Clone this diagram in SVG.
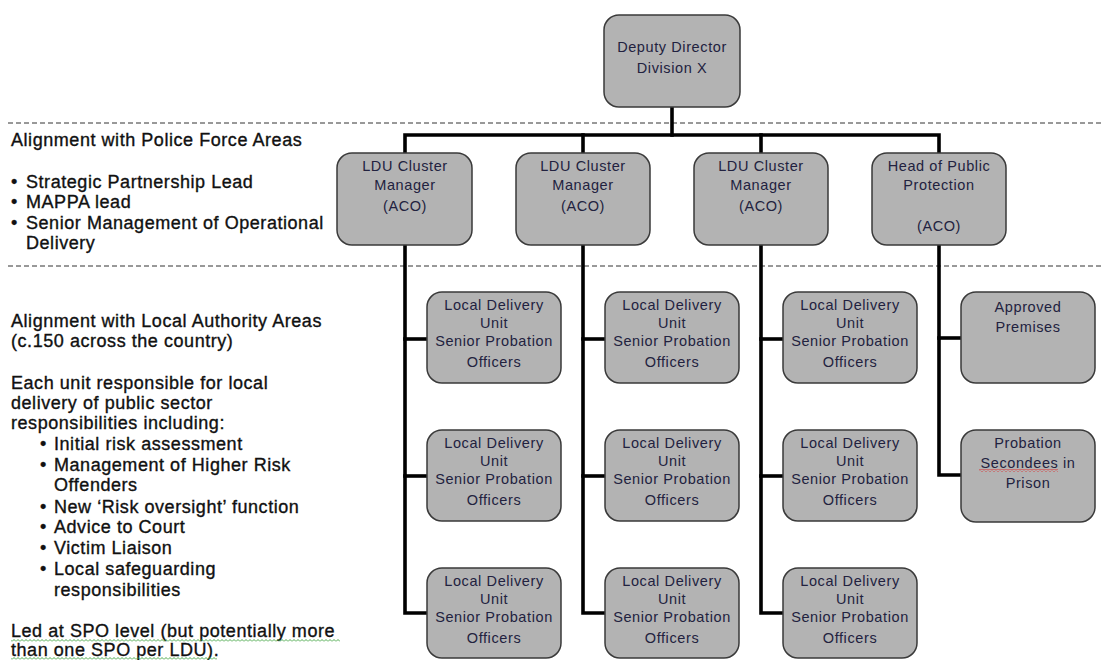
<svg xmlns="http://www.w3.org/2000/svg" width="1102" height="660" viewBox="0 0 1102 660">
  <defs>
    <style>
      .node .box { fill: #b3b3b3; stroke: #3a3a3a; stroke-width: 1.5; }
      .node text { font-family: "Liberation Sans", Arial, sans-serif; font-size: 14.5px; letter-spacing: 0.6px; fill: #22223f; text-anchor: middle; }
      .conn { stroke: #000; stroke-width: 3.6; fill: none; stroke-linejoin: miter; stroke-linecap: square; }
      .divider { stroke: #333; stroke-width: 1; stroke-dasharray: 5 3; }
      .notes text { font-family: "Liberation Sans", Arial, sans-serif; font-size: 18px; letter-spacing: 0.55px; fill: #111; stroke: #111; stroke-width: 0.35px; }
    </style>
    <pattern id="wavy-red" width="4" height="3" patternUnits="userSpaceOnUse">
      <path d="M0,2.5 L2,0.5 L4,2.5" stroke="#e02020" stroke-width="0.9" fill="none"/>
    </pattern>
    <pattern id="wavy-green" width="4" height="3" patternUnits="userSpaceOnUse">
      <path d="M0,2.5 L2,0.5 L4,2.5" stroke="#3aa03a" stroke-width="0.9" fill="none"/>
    </pattern>
  </defs>

  <rect width="1102" height="660" fill="#fff"/>

  <!-- section dividers -->
  <line class="divider" x1="8" y1="123" x2="1102" y2="123"/>
  <line class="divider" x1="8" y1="266" x2="1102" y2="266"/>

  <!-- connectors -->
  <g id="connectors">
    <path class="conn" d="M672,107 V135"/>
    <path class="conn" d="M405,153 V135 H939 V153"/>
    <path class="conn" d="M583,135 V153"/>
    <path class="conn" d="M761,135 V153"/>
    <!-- cluster 1 -->
    <path class="conn" d="M405,245 V613 H427"/>
    <path class="conn" d="M405,339 H427"/>
    <path class="conn" d="M405,476 H427"/>
    <!-- cluster 2 -->
    <path class="conn" d="M583,245 V613 H605"/>
    <path class="conn" d="M583,339 H605"/>
    <path class="conn" d="M583,476 H605"/>
    <!-- cluster 3 -->
    <path class="conn" d="M761,245 V613 H783"/>
    <path class="conn" d="M761,339 H783"/>
    <path class="conn" d="M761,476 H783"/>
    <!-- public protection -->
    <path class="conn" d="M939,245 V475 H961"/>
    <path class="conn" d="M939,338 H961"/>
  </g>

  <!-- top -->
  <g id="deputy-director" class="node">
    <rect class="box" x="604" y="15" width="136" height="92" rx="15"/>
    <text x="672" y="52">Deputy Director</text>
    <text x="672" y="73">Division X</text>
  </g>

  <!-- second level -->
  <g id="ldu-cluster-1" class="node">
    <rect class="box" x="337" y="153" width="135" height="92" rx="15"/>
    <text x="405" y="171">LDU Cluster</text>
    <text x="405" y="190">Manager</text>
    <text x="405" y="211">(ACO)</text>
  </g>
  <g id="ldu-cluster-2" class="node">
    <rect class="box" x="516" y="153" width="134" height="92" rx="15"/>
    <text x="583" y="171">LDU Cluster</text>
    <text x="583" y="190">Manager</text>
    <text x="583" y="211">(ACO)</text>
  </g>
  <g id="ldu-cluster-3" class="node">
    <rect class="box" x="694" y="153" width="134" height="92" rx="15"/>
    <text x="761" y="171">LDU Cluster</text>
    <text x="761" y="190">Manager</text>
    <text x="761" y="211">(ACO)</text>
  </g>
  <g id="head-public-protection" class="node">
    <rect class="box" x="872" y="153" width="134" height="92" rx="15"/>
    <text x="939" y="171">Head of Public</text>
    <text x="939" y="190">Protection</text>
    <text x="939" y="231">(ACO)</text>
  </g>

  <!-- local delivery units: cluster 1 -->
  <g id="ldu-1-1" class="node">
    <rect class="box" x="427" y="292" width="134" height="91" rx="15"/>
    <text x="494" y="310">Local Delivery</text><text x="494" y="328">Unit</text>
    <text x="494" y="346">Senior Probation</text><text x="494" y="367">Officers</text>
  </g>
  <g id="ldu-1-2" class="node">
    <rect class="box" x="427" y="430" width="134" height="91" rx="15"/>
    <text x="494" y="448">Local Delivery</text><text x="494" y="466">Unit</text>
    <text x="494" y="484">Senior Probation</text><text x="494" y="505">Officers</text>
  </g>
  <g id="ldu-1-3" class="node">
    <rect class="box" x="427" y="568" width="134" height="90" rx="15"/>
    <text x="494" y="586">Local Delivery</text><text x="494" y="604">Unit</text>
    <text x="494" y="622">Senior Probation</text><text x="494" y="643">Officers</text>
  </g>

  <!-- local delivery units: cluster 2 -->
  <g id="ldu-2-1" class="node">
    <rect class="box" x="605" y="292" width="134" height="91" rx="15"/>
    <text x="672" y="310">Local Delivery</text><text x="672" y="328">Unit</text>
    <text x="672" y="346">Senior Probation</text><text x="672" y="367">Officers</text>
  </g>
  <g id="ldu-2-2" class="node">
    <rect class="box" x="605" y="430" width="134" height="91" rx="15"/>
    <text x="672" y="448">Local Delivery</text><text x="672" y="466">Unit</text>
    <text x="672" y="484">Senior Probation</text><text x="672" y="505">Officers</text>
  </g>
  <g id="ldu-2-3" class="node">
    <rect class="box" x="605" y="568" width="134" height="90" rx="15"/>
    <text x="672" y="586">Local Delivery</text><text x="672" y="604">Unit</text>
    <text x="672" y="622">Senior Probation</text><text x="672" y="643">Officers</text>
  </g>

  <!-- local delivery units: cluster 3 -->
  <g id="ldu-3-1" class="node">
    <rect class="box" x="783" y="292" width="134" height="91" rx="15"/>
    <text x="850" y="310">Local Delivery</text><text x="850" y="328">Unit</text>
    <text x="850" y="346">Senior Probation</text><text x="850" y="367">Officers</text>
  </g>
  <g id="ldu-3-2" class="node">
    <rect class="box" x="783" y="430" width="134" height="91" rx="15"/>
    <text x="850" y="448">Local Delivery</text><text x="850" y="466">Unit</text>
    <text x="850" y="484">Senior Probation</text><text x="850" y="505">Officers</text>
  </g>
  <g id="ldu-3-3" class="node">
    <rect class="box" x="783" y="568" width="134" height="90" rx="15"/>
    <text x="850" y="586">Local Delivery</text><text x="850" y="604">Unit</text>
    <text x="850" y="622">Senior Probation</text><text x="850" y="643">Officers</text>
  </g>

  <!-- public protection units -->
  <g id="approved-premises" class="node">
    <rect class="box" x="961" y="292" width="134" height="91" rx="15"/>
    <text x="1028" y="312">Approved</text>
    <text x="1028" y="332">Premises</text>
  </g>
  <g id="probation-secondees" class="node">
    <rect class="box" x="961" y="430" width="134" height="92" rx="15"/>
    <text x="1028" y="448">Probation</text>
    <text x="1028" y="468">Secondees in</text>
    <text x="1028" y="488">Prison</text>
    <!-- spelling-check underline -->
    <rect x="979" y="469" width="79" height="3" fill="url(#wavy-red)"/>
  </g>

  <!-- side notes -->
  <g id="notes" class="notes">
    <text x="11" y="146">Alignment with Police Force Areas</text>
    <text x="11" y="188">•</text><text x="26" y="188">Strategic Partnership Lead</text>
    <text x="11" y="208">•</text><text x="26" y="208">MAPPA lead</text>
    <text x="11" y="229">•</text><text x="26" y="229">Senior Management of Operational</text>
    <text x="26" y="249">Delivery</text>

    <text x="11" y="327">Alignment with Local Authority Areas</text>
    <text x="11" y="347">(c.150 across the country)</text>

    <text x="11" y="389">Each unit responsible for local</text>
    <text x="11" y="409">delivery of public sector</text>
    <text x="11" y="429">responsibilities including:</text>
    <text x="40" y="450">•</text><text x="54" y="450">Initial risk assessment</text>
    <text x="40" y="471">•</text><text x="54" y="471">Management of Higher Risk</text>
    <text x="54" y="491">Offenders</text>
    <text x="40" y="513">•</text><text x="54" y="513">New ‘Risk oversight’ function</text>
    <text x="40" y="533">•</text><text x="54" y="533">Advice to Court</text>
    <text x="40" y="554">•</text><text x="54" y="554">Victim Liaison</text>
    <text x="40" y="575">•</text><text x="54" y="575">Local safeguarding</text>
    <text x="54" y="596">responsibilities</text>

    <text x="11" y="637">Led at SPO level (but potentially more</text>
    <text x="11" y="656">than one SPO per LDU).</text>
    <rect x="11" y="639" width="329" height="3" fill="url(#wavy-green)"/>
    <rect x="11" y="657" width="206" height="3" fill="url(#wavy-green)"/>
  </g>
</svg>
